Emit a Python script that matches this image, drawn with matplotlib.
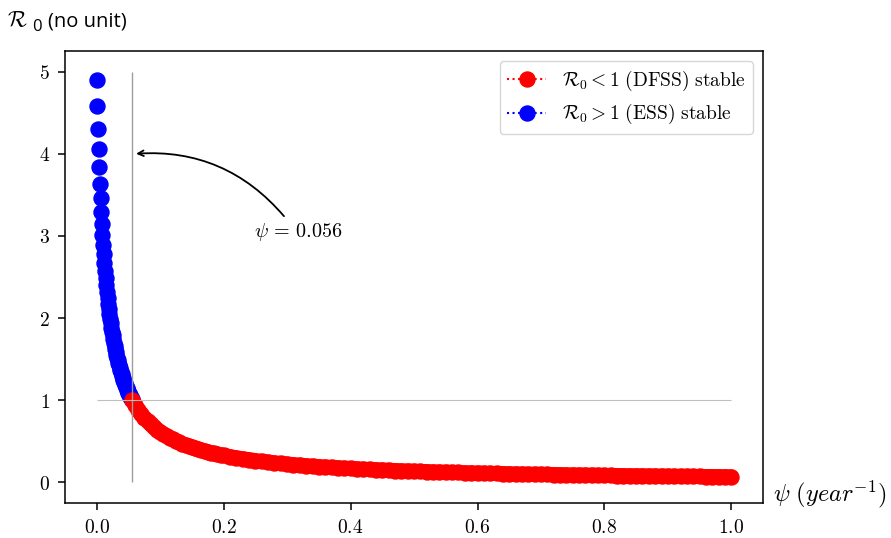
import matplotlib
matplotlib.use("Agg")
import matplotlib.pyplot as plt
from matplotlib.lines import Line2D
from matplotlib.ticker import FuncFormatter

plt.rcParams['mathtext.fontset'] = 'cm'
plt.rcParams['font.family'] = ['DejaVu Sans']

# threshold value of psi where R0 crosses 1
psi_star = 0.056

# R0 > 1 branch (ESS stable), psi step 0.001
psi_blue = [0.000, 0.001, 0.002, 0.003, 0.004, 0.005, 0.006, 0.007, 0.008, 0.009,
            0.010, 0.011, 0.012, 0.013, 0.014, 0.015, 0.016, 0.017, 0.018, 0.019,
            0.020, 0.021, 0.022, 0.023, 0.024, 0.025, 0.026, 0.027, 0.028, 0.029,
            0.030, 0.031, 0.032, 0.033, 0.034, 0.035, 0.036, 0.037, 0.038, 0.039,
            0.040, 0.041, 0.042, 0.043, 0.044, 0.045, 0.046, 0.047, 0.048, 0.049,
            0.050, 0.051, 0.052, 0.053, 0.054, 0.055, 0.056]
r0_blue = [4.903, 4.583, 4.303, 4.055, 3.834, 3.636, 3.458, 3.296, 3.148, 3.014,
           2.890, 2.776, 2.671, 2.573, 2.482, 2.398, 2.319, 2.245, 2.176, 2.110,
           2.049, 1.991, 1.936, 1.884, 1.835, 1.789, 1.744, 1.702, 1.662, 1.624,
           1.587, 1.552, 1.519, 1.486, 1.456, 1.426, 1.398, 1.371, 1.345, 1.319,
           1.295, 1.272, 1.249, 1.227, 1.206, 1.186, 1.166, 1.147, 1.129, 1.111,
           1.094, 1.077, 1.061, 1.045, 1.030, 1.015, 1.001]

# R0 < 1 branch (DFSS stable)
psi_red = [0.056, 0.060, 0.065, 0.070, 0.075, 0.080, 0.085, 0.090, 0.095, 0.100,
           0.105, 0.110, 0.115, 0.120, 0.125, 0.130, 0.135, 0.140, 0.145, 0.150,
           0.155, 0.160, 0.165, 0.170, 0.175, 0.180, 0.185, 0.190, 0.195, 0.200,
           0.21, 0.22, 0.23, 0.24, 0.25, 0.26, 0.27, 0.28, 0.29, 0.30,
           0.31, 0.32, 0.33, 0.34, 0.35, 0.36, 0.37, 0.38, 0.39, 0.40,
           0.41, 0.42, 0.43, 0.44, 0.45, 0.46, 0.47, 0.48, 0.49, 0.50,
           0.51, 0.52, 0.53, 0.54, 0.55, 0.56, 0.57, 0.58, 0.59, 0.60,
           0.61, 0.62, 0.63, 0.64, 0.65, 0.66, 0.67, 0.68, 0.69, 0.70,
           0.71, 0.72, 0.73, 0.74, 0.75, 0.76, 0.77, 0.78, 0.79, 0.80,
           0.81, 0.82, 0.83, 0.84, 0.85, 0.86, 0.87, 0.88, 0.89, 0.90,
           0.91, 0.92, 0.93, 0.94, 0.95, 0.96, 0.97, 0.98, 0.99, 1.00]
r0_red = [1.001, 0.947, 0.887, 0.835, 0.788, 0.746, 0.709, 0.675, 0.644, 0.616,
          0.590, 0.566, 0.544, 0.524, 0.505, 0.488, 0.471, 0.456, 0.442, 0.428,
          0.416, 0.404, 0.393, 0.382, 0.372, 0.362, 0.353, 0.345, 0.336, 0.328,
          0.314, 0.300, 0.288, 0.277, 0.266, 0.257, 0.248, 0.239, 0.231, 0.224,
          0.217, 0.211, 0.204, 0.199, 0.193, 0.188, 0.183, 0.179, 0.174, 0.170,
          0.166, 0.162, 0.158, 0.155, 0.152, 0.148, 0.145, 0.142, 0.140, 0.137,
          0.134, 0.132, 0.129, 0.127, 0.125, 0.123, 0.121, 0.118, 0.117, 0.115,
          0.113, 0.111, 0.109, 0.108, 0.106, 0.104, 0.103, 0.101, 0.100, 0.099,
          0.097, 0.096, 0.095, 0.093, 0.092, 0.091, 0.090, 0.089, 0.088, 0.086,
          0.085, 0.084, 0.083, 0.082, 0.081, 0.081, 0.080, 0.079, 0.078, 0.077,
          0.076, 0.075, 0.075, 0.074, 0.073, 0.072, 0.072, 0.071, 0.070, 0.069]

label_red = r'$\mathcal{R}_0 < 1\ \mathrm{(DFSS)\ stable}$'
label_blue = r'$\mathcal{R}_0 > 1\ \mathrm{(ESS)\ stable}$'

ms = 10.8  # marker diameter in points

fig = plt.figure(figsize=(8.91, 5.38), dpi=100)
ax = fig.add_axes([0.0730, 0.0651, 0.7834, 0.8401])

# blue first so the red dot at psi* sits on top
ax.plot(psi_blue, r0_blue, 'o', color='blue', ms=ms)
# thick underlay smooths the dense red band between markers
ax.plot(psi_red, r0_red, '-', color='red', lw=ms, solid_capstyle='round',
        solid_joinstyle='round')
ax.plot(psi_red, r0_red, 'o', color='red', ms=ms)

# guide lines
ax.vlines(psi_star, 0, 5, color='0.62', lw=1.0, zorder=3)
ax.hlines(1, 0, 1, color='0.75', lw=0.8, zorder=3)

ax.annotate('', xy=(0.062, 4.0), xytext=(0.295, 3.24),
            arrowprops=dict(arrowstyle='->', connectionstyle='arc3,rad=0.25',
                            color='black', lw=1.3, shrinkA=0, shrinkB=0))
ax.text(0.247, 3.05, r'$\psi \,=\, 0.056$', fontsize=14.5, ha='left', va='center')

ax.xaxis.set_major_formatter(FuncFormatter(lambda v, p: f'${v:.1f}$'))
ax.yaxis.set_major_formatter(FuncFormatter(lambda v, p: f'${v:.0f}$'))
ax.set_xticks([0.0, 0.2, 0.4, 0.6, 0.8, 1.0])
ax.set_yticks([0, 1, 2, 3, 4, 5])
ax.tick_params(labelsize=14, length=5.2, width=1.1, pad=5.5)
for sp in ax.spines.values():
    sp.set_linewidth(1.1)

# legend entries show a dotted line with the marker
h_red = Line2D([], [], ls=':', marker='o', color='red', ms=ms, lw=1.5)
h_blue = Line2D([], [], ls=':', marker='o', color='blue', ms=ms, lw=1.5)
ax.legend([h_red, h_blue], [label_red, label_blue], loc='upper right', fontsize=14)

# axis titles placed like in the source slide
fig.text(7 / 891, 1 - 27 / 538, r'$\mathcal{R}$', fontsize=16, va='baseline')
fig.text(32 / 891, 1 - 31 / 538, '0', fontsize=12, family='Open Sans', va='baseline')
fig.text(48 / 891, 1 - 27 / 538, '(no unit)', fontsize=14.5, family='Open Sans', va='baseline')
fig.text(773 / 891, 1 - 501 / 538, r'$\psi\ (year^{-1})$', fontsize=17.5, va='baseline')

fig.savefig('out.png', dpi=100)
